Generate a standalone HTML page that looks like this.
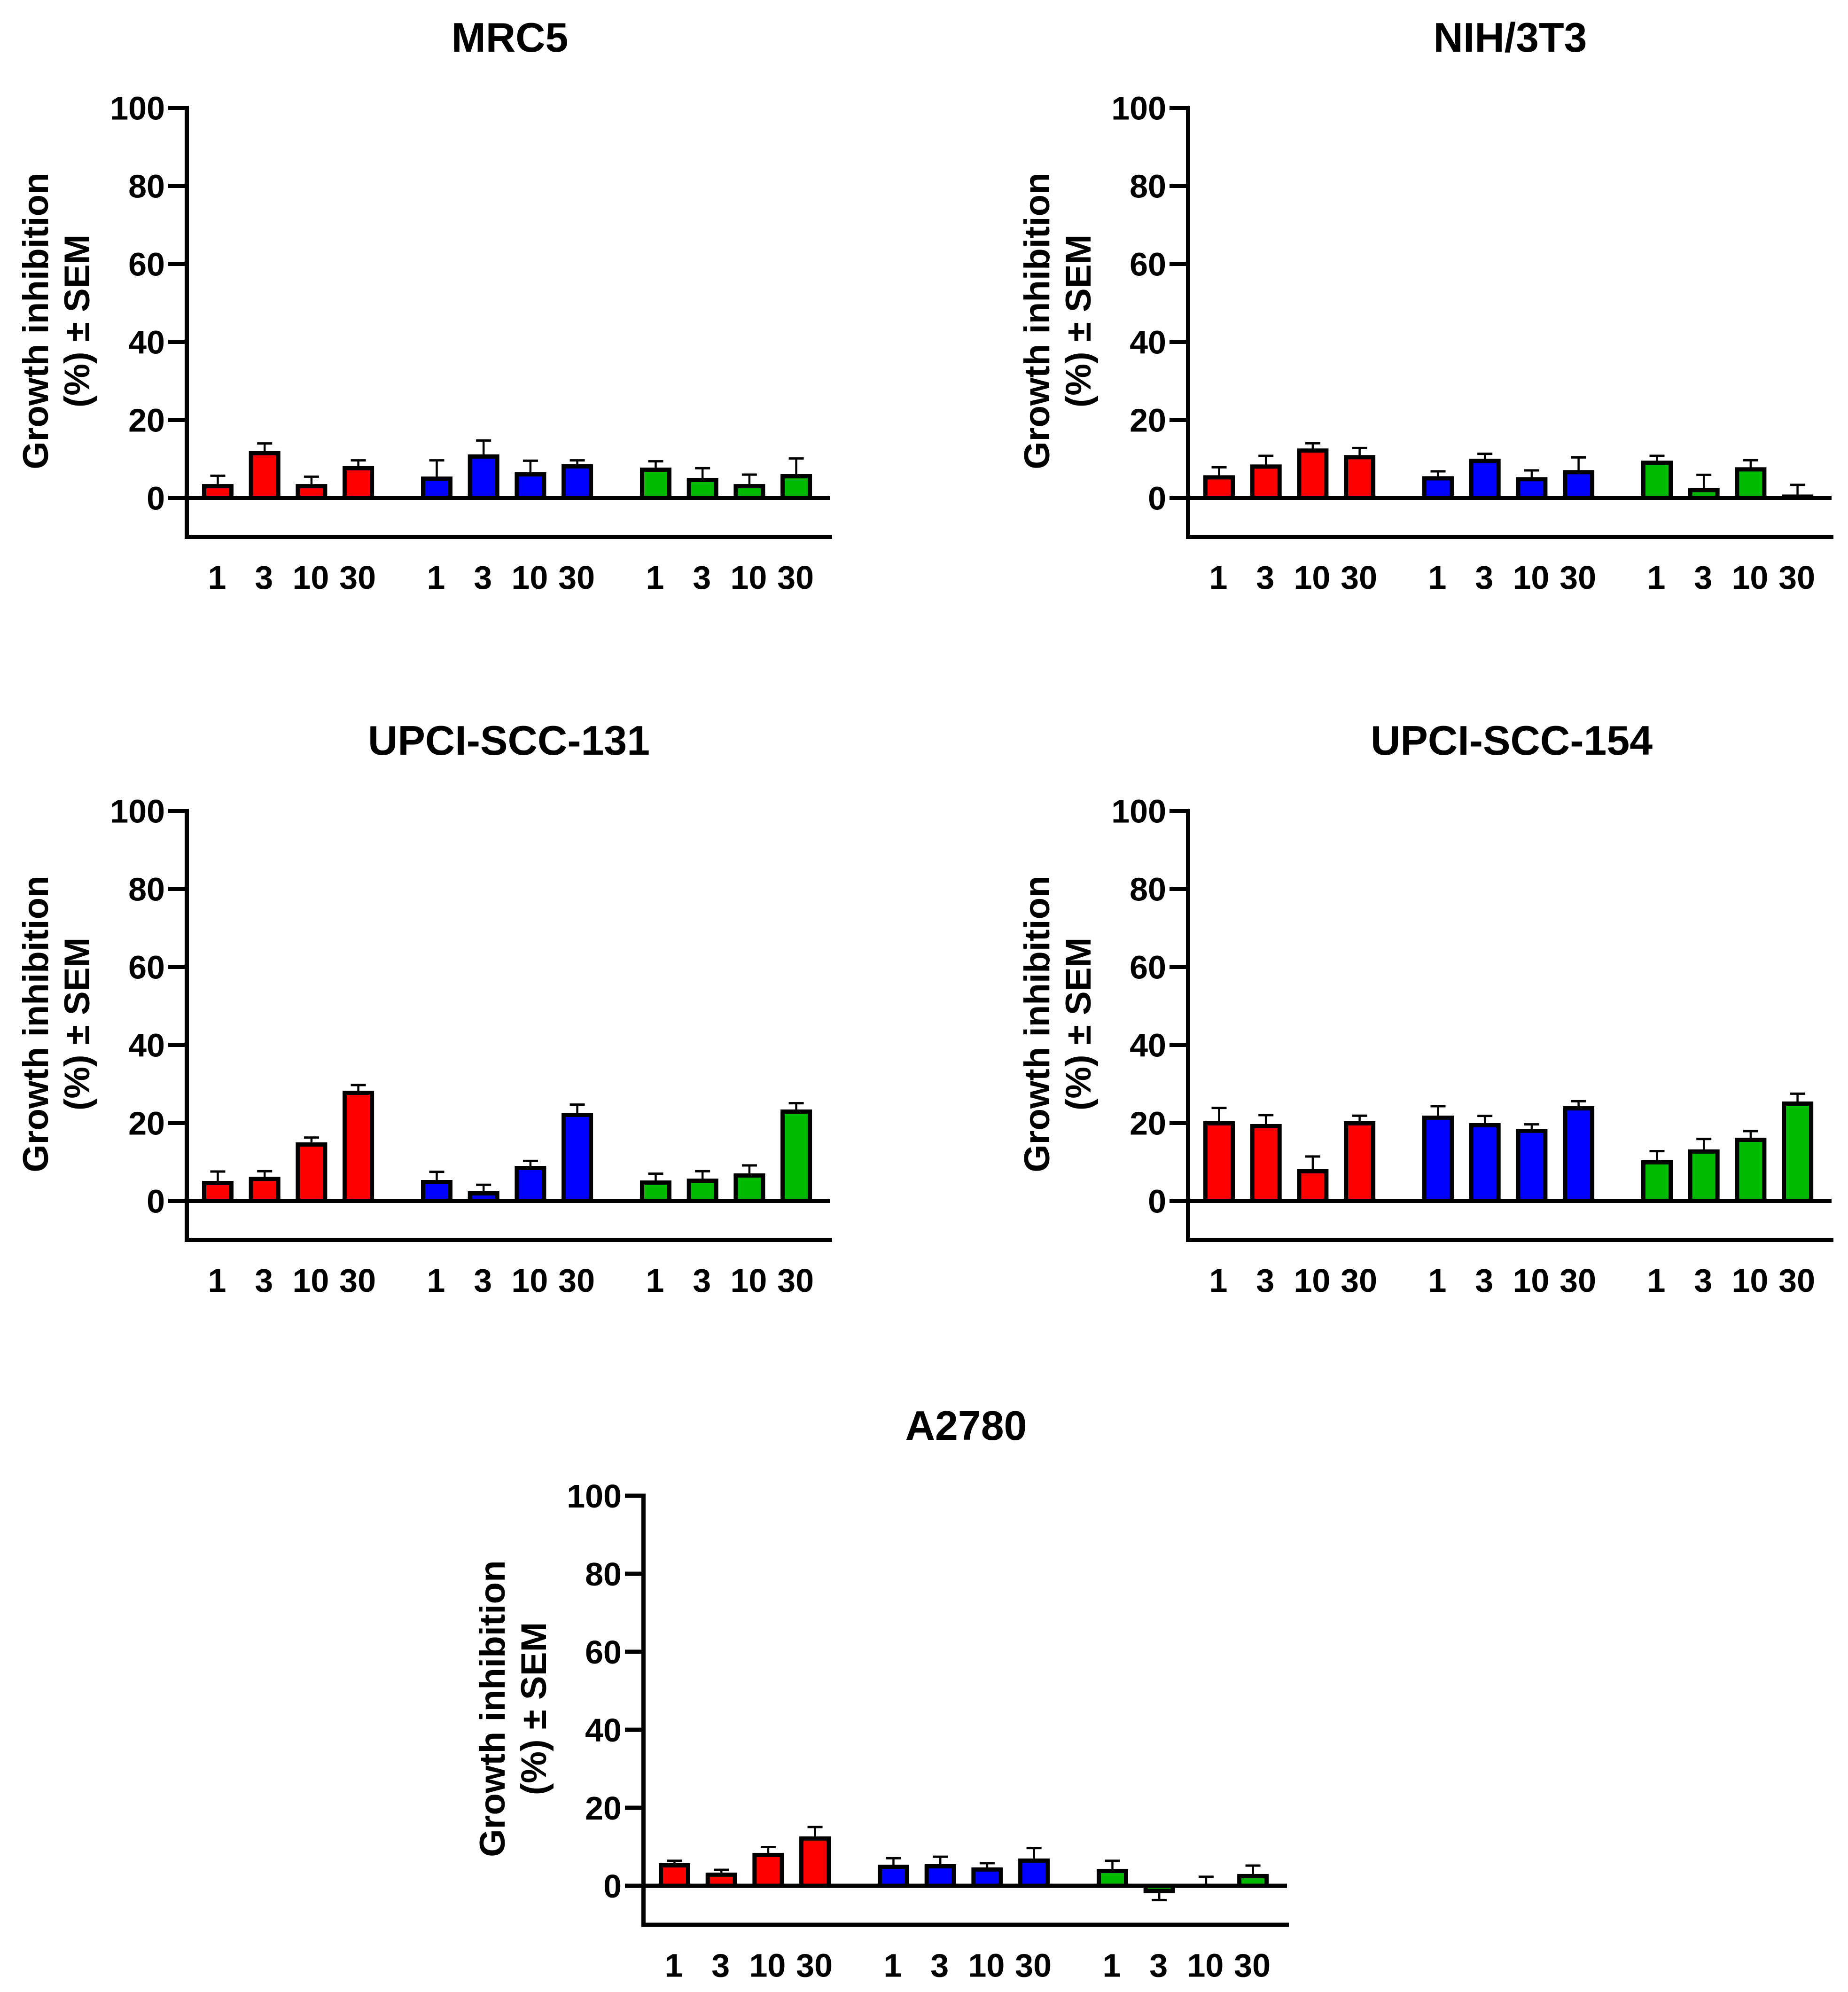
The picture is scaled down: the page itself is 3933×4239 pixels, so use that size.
<!DOCTYPE html>
<html lang="en">
<head>
<meta charset="utf-8">
<title>Growth inhibition by cell line</title>
<style>
  html, body { margin: 0; padding: 0; background: #ffffff; }
  svg { display: block; }
  text { font-family: "Liberation Sans", Arial, sans-serif; font-weight: bold; fill: #000; }
  .title { font-size: 87.8px; text-anchor: middle; }
  .ytitle { font-size: 76.3px; text-anchor: middle; }
  .tick { font-size: 70px; }
</style>
</head>
<body>
<svg id="figure" xmlns="http://www.w3.org/2000/svg" width="3933" height="4239" viewBox="0 0 3933 4239">
  <rect x="0" y="0" width="3933" height="4239" fill="#ffffff"/>

  <text class="title" x="1085" y="110">MRC5</text>
  <text class="title" x="3214" y="110">NIH/3T3</text>
  <text class="title" x="1083" y="1606">UPCI-SCC-131</text>
  <text class="title" x="3217" y="1606">UPCI-SCC-154</text>
  <text class="title" x="2056" y="3064">A2780</text>

  <g>
    <text class="ytitle" transform="translate(102 683) rotate(-90)">Growth inhibition</text>
    <text class="ytitle" transform="translate(190 683) rotate(-90)">(%) ± SEM</text>
  </g>
  <g>
    <text class="ytitle" transform="translate(2233 683) rotate(-90)">Growth inhibition</text>
    <text class="ytitle" transform="translate(2321 683) rotate(-90)">(%) ± SEM</text>
  </g>
  <g>
    <text class="ytitle" transform="translate(102 2179) rotate(-90)">Growth inhibition</text>
    <text class="ytitle" transform="translate(190 2179) rotate(-90)">(%) ± SEM</text>
  </g>
  <g>
    <text class="ytitle" transform="translate(2233 2179) rotate(-90)">Growth inhibition</text>
    <text class="ytitle" transform="translate(2321 2179) rotate(-90)">(%) ± SEM</text>
  </g>
  <g>
    <text class="ytitle" transform="translate(1074 3636) rotate(-90)">Growth inhibition</text>
    <text class="ytitle" transform="translate(1162 3636) rotate(-90)">(%) ± SEM</text>
  </g>
</svg>

<script>
// Chart data
const doseLabels = ['1', '3', '10', '30'];
const seriesColors = ['#ff0000', '#0000ff', '#00bb00'];
const yTickValues = [0, 20, 40, 60, 80, 100];

const mrc5Means = [3.0, 11.45, 3.0, 7.6, 4.94, 10.6, 6.02, 8.07, 7.23, 4.58, 3.0, 5.54];
const mrc5Sems = [2.68, 2.51, 2.44, 2.02, 4.68, 4.12, 3.52, 1.55, 2.15, 3.03, 2.96, 4.56];

const nih3t3Means = [5.26, 8.03, 12.13, 10.44, 5.02, 9.48, 4.78, 6.59, 9.0, 2.01, 7.31, 0.32];
const nih3t3Sems = [2.59, 2.75, 1.87, 2.35, 1.79, 1.82, 2.27, 3.79, 1.78, 3.91, 2.35, 3.03];

const scc131Means = [4.58, 5.66, 14.46, 27.71, 4.82, 1.93, 8.43, 22.05, 4.7, 5.18, 6.51, 22.89];
const scc131Sems = [2.95, 1.95, 1.78, 1.99, 2.63, 2.19, 1.83, 2.63, 2.27, 2.43, 2.59, 2.15];

const scc154Means = [19.88, 19.16, 7.59, 19.88, 21.33, 19.4, 17.95, 23.73, 9.88, 12.65, 15.66, 24.94];
const scc154Sems = [3.96, 2.83, 3.8, 1.95, 2.95, 2.39, 1.67, 1.83, 2.87, 3.23, 2.23, 2.55];

const a2780Means = [5.25, 2.85, 7.9, 12.13, 4.88, 5.0, 4.18, 6.46, 3.8, -1.32, 0, 2.48];
const a2780Sems = [1.17, 1.25, 2.04, 2.94, 2.2, 2.45, 1.62, 3.23, 2.62, 2.34, 2.32, 2.7];

const SVG_NS = 'http://www.w3.org/2000/svg';
const figure = document.getElementById('figure');

// Axis functions, in panel-local pixels
function yScale(value) {
  return 1059.5 - value * 8.3;
}
function xScale(index) {
  const group = Math.floor(index / 4);
  const dose = index % 4;
  return 463.5 + dose * 99.7 + group * 466;
}

function line(parent, x1, y1, x2, y2, width) {
  const el = document.createElementNS(SVG_NS, 'line');
  el.setAttribute('x1', x1);
  el.setAttribute('y1', y1);
  el.setAttribute('x2', x2);
  el.setAttribute('y2', y2);
  el.setAttribute('stroke', '#000');
  el.setAttribute('stroke-width', width);
  parent.appendChild(el);
  return el;
}

function drawPanel(slug, means, sems, dx, dy) {
  const panel = document.createElementNS(SVG_NS, 'g');
  
  
  panel.setAttribute('transform', 'translate(' + dx + ' ' + dy + ')');
  figure.appendChild(panel);

  means.forEach(function (mean, i) {
    const x = xScale(i);
    const sem = sems[i];
    const dir = mean < 0 ? -1 : 1;

    const stem = line(panel, x, yScale(mean), x, yScale(mean + dir * sem), 4.5);
    
    

    const cap = line(panel, x - 16, yScale(mean + dir * sem), x + 16, yScale(mean + dir * sem), 5);
    
    

    const bar = document.createElementNS(SVG_NS, 'rect');
    
    
    bar.setAttribute('x', x - 29);
    bar.setAttribute('y', Math.min(yScale(mean), yScale(0)));
    bar.setAttribute('width', 58);
    bar.setAttribute('height', Math.abs(yScale(0) - yScale(mean)));
    bar.setAttribute('fill', seriesColors[Math.floor(i / 4)]);
    bar.setAttribute('stroke', '#000');
    bar.setAttribute('stroke-width', 9);
    panel.appendChild(bar);

    const label = document.createElementNS(SVG_NS, 'text');
    
    
    label.setAttribute('class', 'tick');
    label.setAttribute('x', x - 1.5);
    label.setAttribute('y', yScale(0) + 193.5);
    label.setAttribute('text-anchor', 'middle');
    label.textContent = doseLabels[i % 4];
    panel.appendChild(label);
  });

  const yAxis = line(panel, 397.5, yScale(100) - 4.5, 397.5, yScale(-10) + 4.5, 9);
  
  

  const bottomAxis = line(panel, 393, yScale(-10), 1771, yScale(-10), 9);
  
  

  const zeroLine = line(panel, 397.5, yScale(0), 1767, yScale(0), 9);
  
  

  yTickValues.forEach(function (tick) {
    const mark = line(panel, 358, yScale(tick), 397.5, yScale(tick), 9);
    
    

    const label = document.createElementNS(SVG_NS, 'text');
    
    
    label.setAttribute('class', 'tick');
    label.setAttribute('x', 351);
    label.setAttribute('y', yScale(tick) + 25);
    label.setAttribute('text-anchor', 'end');
    label.textContent = String(tick);
    panel.appendChild(label);
  });
}

drawPanel('mrc5', mrc5Means, mrc5Sems, 0, 0);
drawPanel('nih-3t3', nih3t3Means, nih3t3Sems, 2131, 0);
drawPanel('upci-scc-131', scc131Means, scc131Sems, 0, 1496);
drawPanel('upci-scc-154', scc154Means, scc154Sems, 2131, 1496);
drawPanel('a2780', a2780Means, a2780Sems, 972, 2953.5);
</script>
</body>
</html>
